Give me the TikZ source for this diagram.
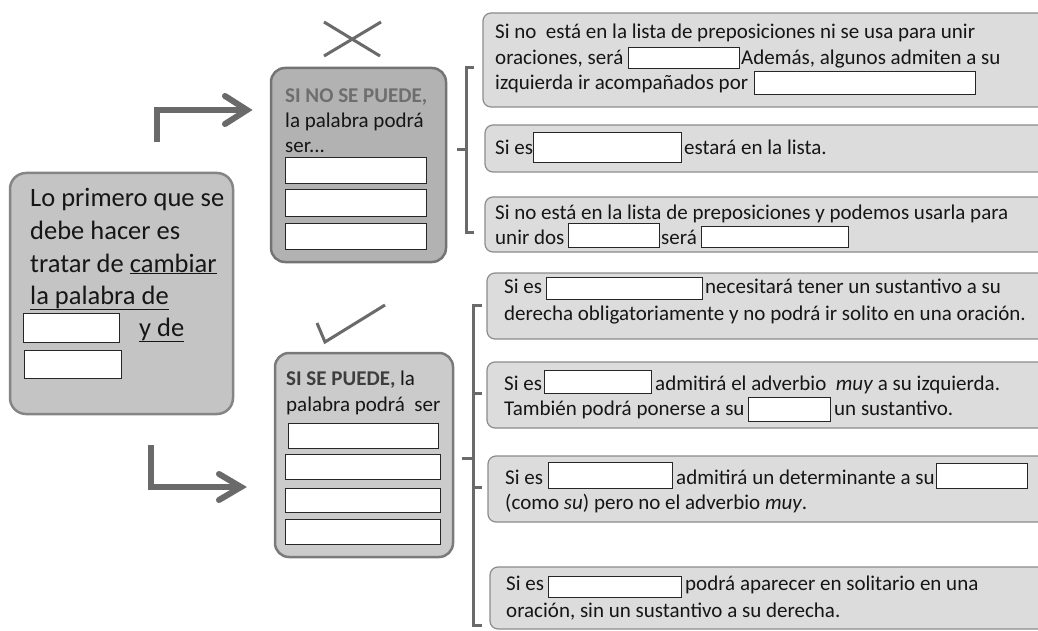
\documentclass[tikz,border=0pt]{standalone}
\usepackage{fontspec}
\setmainfont{Carlito}
\usetikzlibrary{calc}
\definecolor{arrowgray}{HTML}{6A6A6A}
\definecolor{leftfill}{HTML}{C4C4C4}
\definecolor{leftdraw}{HTML}{858585}
\definecolor{nofill}{HTML}{B2B2B2}
\definecolor{nodraw}{HTML}{747474}
\definecolor{yesfill}{HTML}{CBCBCB}
\definecolor{yesdraw}{HTML}{7A7A7A}
\definecolor{rfill}{HTML}{DCDCDC}
\definecolor{rdraw}{HTML}{8C8C8C}
\definecolor{txt}{HTML}{161616}
\definecolor{nohead}{HTML}{6E6E6E}
\definecolor{yeshead}{HTML}{3E3E3E}
\newcommand{\boxat}[6]{\node[#2, minimum width={(#5-#3)*1pt}, minimum height={(#6-#4)*1pt}] (#1) at ({(#3+#5)/2},{(#4+#6)/2}) {};}
\newcommand{\tx}[5]{\node[#2] (#1) at (#3,#4) {#5};}
\begin{document}
\begin{tikzpicture}[x=1pt,y=-1pt,
  leftbox/.style={draw=leftdraw, fill=leftfill, line width=2.5pt, rounded corners=16pt, inner sep=0pt},
  nobox/.style={draw=nodraw, fill=nofill, line width=2.5pt, rounded corners=14pt, inner sep=0pt},
  yesbox/.style={draw=yesdraw, fill=yesfill, line width=2.5pt, rounded corners=14pt, inner sep=0pt},
  rbox/.style={draw=rdraw, fill=rfill, line width=1.2pt, rounded corners=8pt, inner sep=0pt},
  blankbox/.style={draw=black!85, fill=white, line width=1pt, inner sep=0pt},
  bigtext/.style={anchor=base west, inner sep=0pt, text=txt, font=\fontsize{26.5}{30}\selectfont},
  midtext/.style={anchor=base west, inner sep=0pt, text=txt, font=\fontsize{21}{24}\selectfont},
  smalltext/.style={anchor=base west, inner sep=0pt, text=txt, font=\fontsize{21}{24}\selectfont},
  arrowline/.style={draw=arrowgray, line width=6pt},
  arrowtip/.style={draw=arrowgray, line width=6pt, line cap=round},
  markline/.style={draw=arrowgray, line width=3pt},
  brk/.style={draw=arrowgray, line width=3pt}
]
\useasboundingbox (0,0) rectangle (1038,631);
\fill[white] (0,0) rectangle (1038,631);

% ---------- left box ----------
\boxat{L}{leftbox}{10}{173}{233}{414}
\tx{l1}{bigtext}{30}{206}{Lo primero que se}
\tx{l2}{bigtext}{30}{239}{debe hacer es}
\tx{l3}{bigtext}{30}{272}{tratar de \underline{cambiar}}
\tx{l4}{bigtext}{30}{304}{\underline{la palabra de}}
\boxat{lb1}{blankbox}{23}{313}{119}{342}
\tx{l5}{bigtext}{139}{336}{\underline{y de}}
\boxat{lb2}{blankbox}{24}{350}{121}{378}

% ---------- arrows ----------
\coordinate (a1s) at (157,142);
\coordinate (a1e) at (244,110);
\coordinate (a1t) at (247,110);
\draw[arrowline] (a1s) |- (a1e);
\draw[arrowtip] ($(a1t)+(-22,-14)$) -- (a1t) -- ($(a1t)+(-22,14)$);
\coordinate (a2s) at (151,445);
\coordinate (a2e) at (238,487);
\coordinate (a2t) at (241,487);
\draw[arrowline] (a2s) |- (a2e);
\draw[arrowtip] ($(a2t)+(-22,-13)$) -- (a2t) -- ($(a2t)+(-22,13)$);

% ---------- cross and check ----------
\coordinate (x1) at (324,22); \coordinate (x2) at (380,56);
\coordinate (x3) at (324,56); \coordinate (x4) at (381,22);
\draw[markline] (x1) -- (x2);
\draw[markline] (x3) -- (x4);
\coordinate (c1) at (317,323); \coordinate (c2) at (325,342); \coordinate (c3) at (385,305);
\draw[markline] (c1) -- (c2) -- (c3);

% ---------- top middle box ----------
\boxat{N}{nobox}{271}{68}{446}{262}
\tx{n1}{midtext}{285}{103}{\textcolor{nohead}{\textbf{SI NO SE PUEDE,}}}
\tx{n2}{midtext}{285}{128}{la palabra podrá}
\tx{n3}{midtext}{285}{153}{ser...}
\boxat{nb1}{blankbox}{285}{158}{426}{184}
\boxat{nb2}{blankbox}{285}{190}{426}{216}
\boxat{nb3}{blankbox}{285}{223}{426}{249}

% ---------- bottom middle box ----------
\boxat{Y}{yesbox}{275}{353}{453}{557}
\tx{y1}{midtext}{286}{385}{\textcolor{yeshead}{\textbf{SI SE PUEDE,}} la}
\tx{y2}{midtext}{286}{411}{palabra podrá\ \ ser}
\boxat{yb1}{blankbox}{288}{423}{438}{448}
\boxat{yb2}{blankbox}{285}{454}{440}{479}
\boxat{yb3}{blankbox}{285}{488}{440}{512}
\boxat{yb4}{blankbox}{285}{519}{440}{544}

% ---------- brackets ----------
\draw[brk] (474,68) -- (466,68) -- (466,232) -- (474,232);
\draw[brk] (466,150) -- (457,150);
\draw[brk] (482,305) -- (473,305) -- (473,625) -- (482,625);
\draw[brk] (473,393) -- (482,393);
\draw[brk] (473,487) -- (482,487);
\draw[brk] (473,458) -- (462,458);

% ---------- right boxes (top group) ----------
\boxat{A}{rbox}{483}{13}{1046}{107}
\tx{a1}{smalltext}{495}{39}{Si no\ \ está en la lista de preposiciones ni se usa para unir}
\tx{a2}{smalltext}{495}{65}{oraciones, será}
\boxat{ab1}{blankbox}{628}{48}{739}{69}
\tx{a3}{smalltext}{741}{65}{Además, algunos admiten a su}
\tx{a4}{smalltext}{495}{90}{izquierda ir acompañados por}
\boxat{ab2}{blankbox}{754}{72}{975}{95}

\boxat{B}{rbox}{485}{125}{1046}{172}
\tx{b1}{smalltext}{495}{155}{Si es}
\boxat{bb1}{blankbox}{533}{133}{681}{163}
\tx{b2}{smalltext}{684}{155}{estará en la lista.}

\boxat{C}{rbox}{485}{197}{1046}{252}
\tx{c1}{smalltext}{495}{219}{Si no está en la lista de preposiciones y podemos usarla para}
\tx{c2}{smalltext}{495}{244}{unir dos}
\boxat{cb1}{blankbox}{568}{223}{659}{247}
\tx{c3}{smalltext}{661}{244}{será}
\boxat{cb2}{blankbox}{701}{226}{848}{247}

% ---------- right boxes (bottom group) ----------
\boxat{D}{rbox}{487}{273}{1046}{339}
\tx{d1}{smalltext}{504}{293}{Si es}
\boxat{db1}{blankbox}{546}{277}{702}{299}
\tx{d2}{smalltext}{705}{293}{necesitará tener un sustantivo a su}
\tx{d3}{smalltext}{504}{320}{derecha obligatoriamente y no podrá ir solito en una oración.}

\boxat{E}{rbox}{487}{362}{1046}{428}
\tx{e1}{smalltext}{504}{390}{Si es}
\boxat{eb1}{blankbox}{544}{370}{651}{393}
\tx{e2}{smalltext}{655}{390}{admitirá el adverbio\ \ \textit{muy} a su izquierda.}
\tx{e3}{smalltext}{504}{415}{También podrá ponerse a su}
\boxat{eb2}{blankbox}{748}{397}{830}{421}
\tx{e4}{smalltext}{834}{415}{un sustantivo.}

\boxat{F}{rbox}{488}{456}{1046}{522}
\tx{f1}{smalltext}{505}{484}{Si es}
\boxat{fb1}{blankbox}{548}{462}{672}{488}
\tx{f2}{smalltext}{676}{484}{admitirá un determinante a su}
\boxat{fb2}{blankbox}{936}{463}{1027}{488}
\tx{f3}{smalltext}{505}{509}{(como \textit{su}) pero no el adverbio \textit{muy}.}

\boxat{G}{rbox}{490}{567}{1046}{629}
\tx{g1}{smalltext}{506}{590}{Si es}
\boxat{gb1}{blankbox}{548}{576}{681}{597}
\tx{g2}{smalltext}{685}{590}{podrá aparecer en solitario en una}
\tx{g3}{smalltext}{506}{617}{oración, sin un sustantivo a su derecha.}
\end{tikzpicture}
\end{document}
